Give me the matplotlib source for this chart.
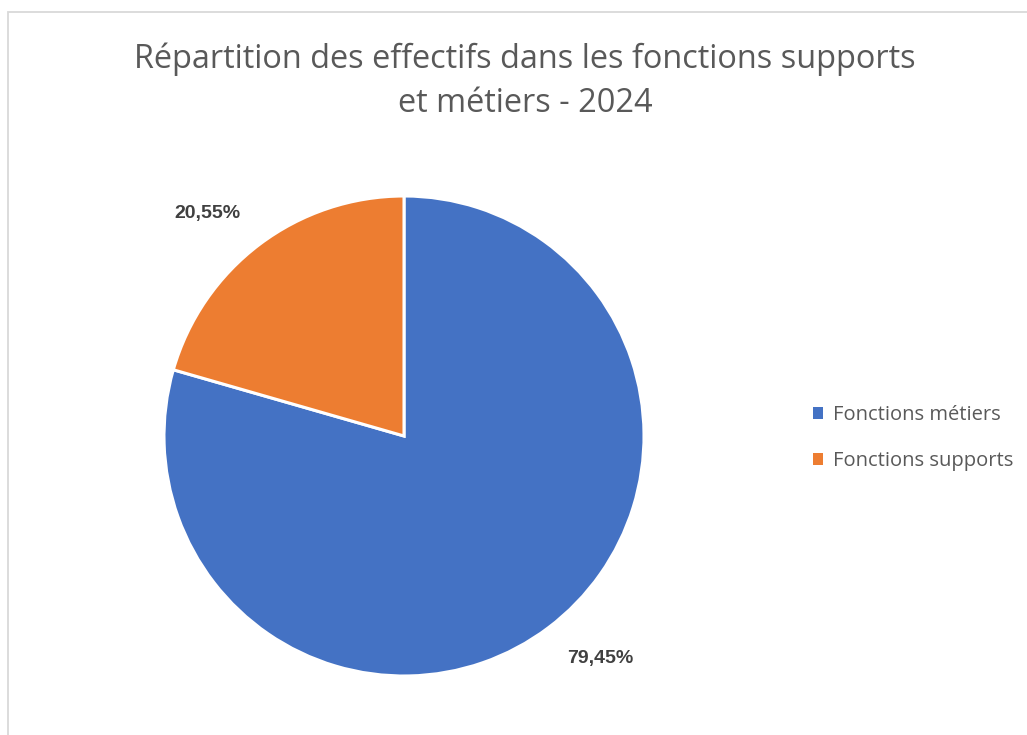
import matplotlib
matplotlib.use("Agg")
import numpy as np
import matplotlib.pyplot as plt
from matplotlib.patches import Rectangle

# data
categories = ["Fonctions métiers", "Fonctions supports"]
shares = [79.45, 20.55]
colors = ["#4472C4", "#ED7D31"]
title = "Répartition des effectifs dans les fonctions supports\net métiers - 2024"

FONT = "Open Sans"

fig = plt.figure(figsize=(10.27, 7.35), dpi=100)
fig.patch.set_facecolor("white")

# light frame like an office chart border
fig.patches.append(Rectangle((8 / 1027, -0.1), 1.2, 1.1 - 12 / 735,
                             transform=fig.transFigure, fc="none",
                             ec="#D9D9D9", lw=1.3))

ax = fig.add_axes([164 / 1027, 59 / 735, 480 / 1027, 480 / 735])
wedges, _, autotexts = ax.pie(
    shares, colors=colors, startangle=90, counterclock=False,
    autopct=lambda p: f"{p:.2f}%".replace(".", ","), pctdistance=1.235,
    wedgeprops=dict(edgecolor="white", linewidth=2.2),
    textprops=dict(fontsize=14, fontweight="bold", color="#404040",
                   family="Liberation Sans"))
# nudge labels a little counter-clockwise (best-fit placement)
rot = np.deg2rad(4.5)
for t in autotexts:
    x, y = t.get_position()
    t.set_position((x * np.cos(rot) - y * np.sin(rot),
                    x * np.sin(rot) + y * np.cos(rot)))
ax.set_xlim(-1, 1)
ax.set_ylim(-1, 1)
ax.set_aspect("equal")

fig.text(525 / 1027, 1 - 81 / 735, title, ha="center", va="center",
         fontsize=23.4, color="#595959", family=FONT, linespacing=1.45)

leg = fig.legend(wedges, categories, loc="center left",
                 bbox_to_anchor=(795 / 1027, 1 - 438 / 735), frameon=False,
                 prop=dict(family=FONT, size=14.5), labelspacing=1.3,
                 handlelength=0.5, handleheight=0.5, handletextpad=0.5)
for t in leg.get_texts():
    t.set_color("#595959")
for h in leg.legend_handles:
    h.set_edgecolor("none")

fig.savefig("out.png", dpi=100, facecolor="white")
